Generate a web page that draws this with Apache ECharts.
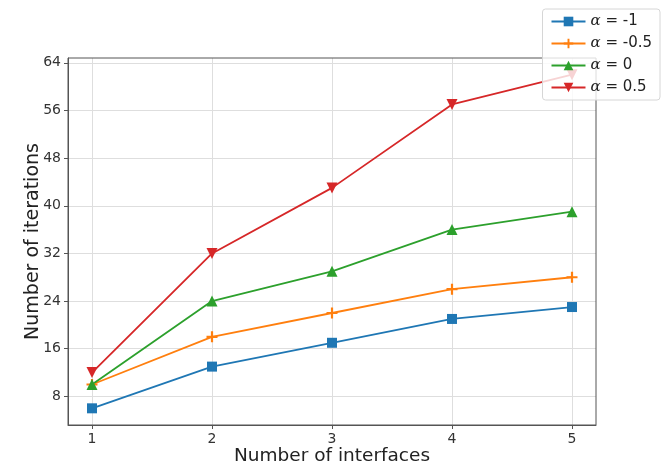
<!DOCTYPE html>
<html>
<head>
<meta charset="utf-8">
<script src="https://cdn.jsdelivr.net/npm/echarts@6/dist/echarts.min.js"></script>
<style>
  html, body { margin: 0; padding: 0; background: #fff; }
  #chart { width: 663px; height: 463px; }
</style>
</head>
<body>
<div id="chart"></div>
<script>
const interfaces = [1, 2, 3, 4, 5]
const yTicks = [8, 16, 24, 32, 40, 48, 56, 64]
const alphaNeg1 = [6, 13, 17, 21, 23]
const alphaNeg05 = [10, 18, 22, 26, 28]
const alpha0 = [10, 24, 29, 36, 39]
const alpha05 = [12, 32, 43, 57, 62]

const plusPath = 'path://M4,0 h2 v4 h4 v2 h-4 v4 h-2 v-4 h-4 v-2 h4 z'

const chart = echarts.init(document.getElementById('chart'))

function makeSeries(name, values, color, symbol, size, rotate) {
  return {
    name: name,
    type: 'line',
    data: interfaces.map((x, i) => [x, values[i]]),
    symbol: symbol,
    symbolSize: size,
    symbolRotate: rotate || 0,
    showAllSymbol: true,
    lineStyle: { color: color, width: 1.8 },
    itemStyle: { color: color },
    emphasis: { disabled: true },
    animation: false,
  }
}

const option = {
  animation: false,
  grid: { left: 68, right: 67, top: 58, bottom: 38, outerBoundsMode: 'none' },
  legend: {
    orient: 'vertical',
    right: 3,
    top: 9,
    padding: [5, 8, 5, 8],
    itemGap: 7,
    itemWidth: 34,
    itemHeight: 12,
    backgroundColor: 'rgba(255,255,255,0.8)',
    borderColor: '#d6d6d6',
    borderWidth: 1,
    borderRadius: 3,
    textStyle: {
      fontFamily: 'DejaVu Sans',
      fontSize: 15,
      color: '#222',
      rich: {
        a: { fontFamily: 'DejaVu Serif', fontStyle: 'italic', fontSize: 15, color: '#222' },
      },
    },
    formatter: (name) => '{a|α} ' + name.slice(2),
  },
  xAxis: {
    type: 'value',
    min: 0.8,
    max: 5.2,
    name: 'Number of interfaces',
    nameLocation: 'middle',
    nameGap: 22,
    nameMoveOverlap: false,
    nameTextStyle: { fontFamily: 'DejaVu Sans', fontSize: 18.5, color: '#222' },
    axisLine: { onZero: false, lineStyle: { color: '#555', width: 1 } },
    axisTick: { show: true, length: 4, customValues: interfaces, lineStyle: { color: '#555' } },
    axisLabel: { customValues: interfaces, margin: 7, fontFamily: 'DejaVu Sans', fontSize: 14, color: '#333' },
    splitLine: { show: true, lineStyle: { color: '#dedede', width: 1 } },
  },
  yAxis: {
    type: 'value',
    min: 3.2,
    max: 64.8,
    name: 'Number of iterations',
    nameLocation: 'middle',
    nameGap: 25,
    nameMoveOverlap: false,
    nameTextStyle: { fontFamily: 'DejaVu Sans', fontSize: 19, color: '#222' },
    axisLine: { show: true, onZero: false, lineStyle: { color: '#555', width: 1 } },
    axisTick: { show: true, length: 4, customValues: yTicks, lineStyle: { color: '#555' } },
    axisLabel: { customValues: yTicks, margin: 7, fontFamily: 'DejaVu Sans', fontSize: 14, color: '#333' },
    splitLine: { show: true, lineStyle: { color: '#dedede', width: 1 } },
  },
  series: [
    makeSeries('α = -1', alphaNeg1, '#1f77b4', 'rect', 10),
    makeSeries('α = -0.5', alphaNeg05, '#ff7f0e', plusPath, 11),
    makeSeries('α = 0', alpha0, '#2ca02c', 'triangle', 11),
    makeSeries('α = 0.5', alpha05, '#d62728', 'triangle', 11, 180),
  ],
}

chart.setOption(option)

// frame on top and right like matplotlib spines
const p0 = chart.convertToPixel({ gridIndex: 0 }, [0.8, 64.8])
const p1 = chart.convertToPixel({ gridIndex: 0 }, [5.2, 3.2])
chart.setOption({
  graphic: [{
    type: 'rect',
    silent: true,
    z: 0,
    shape: { x: p0[0], y: p0[1], width: p1[0] - p0[0], height: p1[1] - p0[1] },
    style: { fill: 'none', stroke: '#555', lineWidth: 1 },
  }],
})
</script>
</body>
</html>
